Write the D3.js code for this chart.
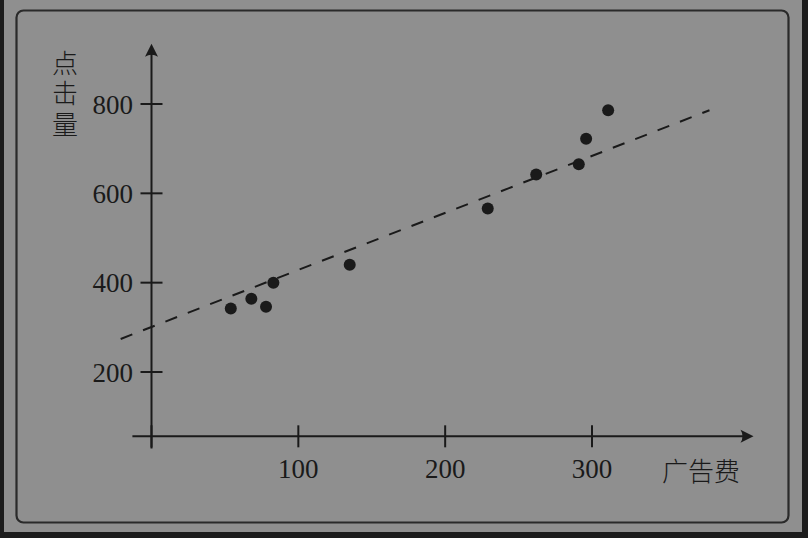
<!DOCTYPE html>
<html>
<head>
<meta charset="utf-8">
<script src="https://cdn.jsdelivr.net/npm/d3@7"></script>
<style>
  html, body { margin: 0; padding: 0; background: #1c1c1c; }
  svg { display: block; }
</style>
</head>
<body>
<svg id="chart" width="808" height="538"></svg>
<script>
// ---- data ----
const adCost  = [54, 68, 78, 83, 135, 229, 262, 291, 296, 311];
const clicks  = [342, 364, 346, 400, 440, 566, 642, 665, 722, 786];
const trendX  = [-21, 380];
const trendY  = [274, 786];
const xTicks  = [100, 200, 300];
const yTicks  = [200, 400, 600, 800];
const xLabel  = "广告费";
const yLabel  = "点击量";
const xAxisExtent = [-13, 410];
const yAxisExtent = [29, 935];
const xAxisAt = 56;   // y value where horizontal axis sits

const svg = d3.select("#chart");
const ink = "#1a1a1a";

// background
svg.append("rect").attr("x", 4).attr("y", 0).attr("width", 798).attr("height", 532).attr("fill", "#8f8f8f");
svg.append("rect").attr("x", 16.5).attr("y", 10.5).attr("width", 772).attr("height", 512)
  .attr("rx", 7).attr("fill", "none").attr("stroke", "#2a2a2a").attr("stroke-width", 2.2);

const x = d3.scaleLinear().domain([0, 300]).range([151.5, 592]);
const y = d3.scaleLinear().domain([200, 800]).range([372, 104]);

const g = svg.append("g");

// horizontal axis
const xa = y(xAxisAt);
g.append("line").attr("x1", x(xAxisExtent[0])).attr("x2", x(xAxisExtent[1]) - 6)
  .attr("y1", xa).attr("y2", xa).attr("stroke", ink).attr("stroke-width", 2);
// vertical axis
g.append("line").attr("x1", x(0)).attr("x2", x(0))
  .attr("y1", y(yAxisExtent[0])).attr("y2", y(yAxisExtent[1]) + 6)
  .attr("stroke", ink).attr("stroke-width", 2);

// arrowheads
const tipX = x(xAxisExtent[1]);
g.append("path").attr("d", `M${tipX},${xa} L${tipX-13},${xa-6.5} Q${tipX-9},${xa} ${tipX-13},${xa+6.5} Z`).attr("fill", ink);
const tipY = y(yAxisExtent[1]);
g.append("path").attr("d", `M${x(0)},${tipY} L${x(0)-6.5},${tipY+13} Q${x(0)},${tipY+9} ${x(0)+6.5},${tipY+13} Z`).attr("fill", ink);

// x ticks (including origin)
[0].concat(xTicks).forEach(t => {
  g.append("line").attr("x1", x(t)).attr("x2", x(t)).attr("y1", xa - 11).attr("y2", xa + 11)
    .attr("stroke", ink).attr("stroke-width", 2);
});
g.selectAll(".xt").data(xTicks).enter().append("text")
  .attr("x", d => x(d)).attr("y", 478).attr("text-anchor", "middle")
  .attr("font-family", "'Liberation Serif', 'DejaVu Serif', serif").attr("font-size", 27)
  .attr("fill", ink).text(d => d);

// y ticks
yTicks.forEach(t => {
  g.append("line").attr("x1", x(0) - 11).attr("x2", x(0) + 11).attr("y1", y(t)).attr("y2", y(t))
    .attr("stroke", ink).attr("stroke-width", 2);
});
g.selectAll(".yt").data(yTicks).enter().append("text")
  .attr("x", 133).attr("y", d => y(d) + 9.5).attr("text-anchor", "end")
  .attr("font-family", "'Liberation Serif', 'DejaVu Serif', serif").attr("font-size", 27)
  .attr("fill", ink).text(d => d);

// axis titles
const cjk = "'Noto Sans CJK SC', sans-serif";
g.append("text")
  .attr("x", 65).attr("y", 50)
  .style("writing-mode", "vertical-rl")
  .attr("letter-spacing", 4.5)
  .attr("font-family", cjk).attr("font-size", 26)
  .attr("font-weight", 300).attr("fill", ink).text(yLabel);
g.append("text").attr("x", 701).attr("y", 472).attr("dy", "0.36em").attr("text-anchor", "middle")
  .attr("font-family", cjk).attr("font-size", 26).attr("font-weight", 300)
  .attr("fill", ink).text(xLabel);

// trend line
g.append("line").attr("x1", x(trendX[0])).attr("y1", y(trendY[0]))
  .attr("x2", x(trendX[1])).attr("y2", y(trendY[1]))
  .attr("stroke", ink).attr("stroke-width", 2).attr("stroke-dasharray", "12.5,11.5");

// points
g.selectAll(".pt").data(adCost).enter().append("circle")
  .attr("cx", d => x(d)).attr("cy", (d, i) => y(clicks[i])).attr("r", 6).attr("fill", ink);
</script>
</body>
</html>
